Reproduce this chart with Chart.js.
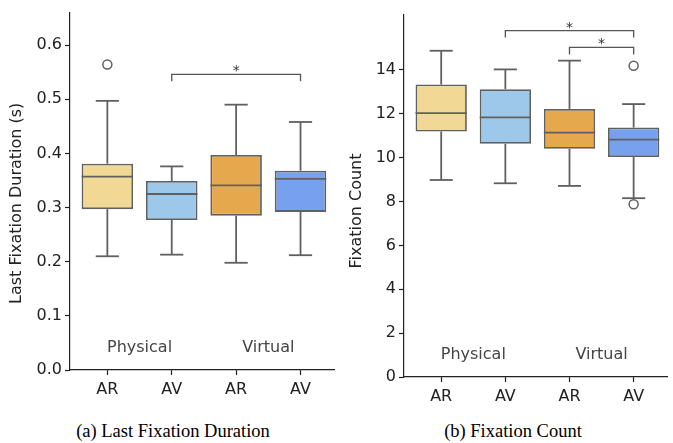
<!DOCTYPE html>
<html>
<head>
<meta charset="utf-8">
<script src="https://cdn.jsdelivr.net/npm/chart.js@4.4.1/dist/chart.umd.min.js"></script>
<style>
  body { margin: 0; background: #fff; }
  #wrap { position: relative; width: 673px; height: 443px; overflow: hidden; }
  #wrap canvas { position: absolute; top: 0; }
  .caption {
    position: absolute; top: 421px;
    font-family: 'Liberation Serif', 'Times New Roman', serif;
    font-size: 18.5px; line-height: 20px; color: #000;
    white-space: nowrap; transform: translateX(-50%);
  }
</style>
</head>
<body>
<div id="wrap">
  <canvas id="durationChart" width="340" height="410" style="left:0"></canvas>
  <canvas id="countChart" width="333" height="410" style="left:340px"></canvas>
  <div class="caption" style="left:173px">(a) Last Fixation Duration</div>
  <div class="caption" style="left:513px">(b) Fixation Count</div>
</div>
<script>
const conditions = ['AR', 'AV', 'AR', 'AV'];
const groups = ['Physical', 'Virtual'];
const boxColors = ['#f1d995', '#9dc8ea', '#e6a84c', '#77a0ee'];

// Last fixation duration (s): lower whisker, Q1, median, Q3, upper whisker
const durLow = [0.210, 0.213, 0.198, 0.212];
const durQ1 = [0.297, 0.277, 0.285, 0.292];
const durMed = [0.357, 0.325, 0.341, 0.353];
const durQ3 = [0.381, 0.349, 0.397, 0.368];
const durHigh = [0.497, 0.376, 0.490, 0.458];
const durOutliers = [[0, 0.564]];
const durTicks = [0, 0.1, 0.2, 0.3, 0.4, 0.5, 0.6];
const durSig = [[1, 3]];

// Fixation count
const cntLow = [8.98, 8.83, 8.71, 8.15];
const cntQ1 = [11.19, 10.63, 10.40, 10.03];
const cntMed = [12.03, 11.83, 11.14, 10.82];
const cntQ3 = [13.33, 13.12, 12.22, 11.37];
const cntHigh = [14.87, 14.02, 14.42, 12.44];
const cntOutliers = [[3, 14.19], [3, 7.87]];
const cntTicks = [0, 2, 4, 6, 8, 10, 12, 14];
const cntSig = [[1, 3], [2, 3]];

const EDGE = '#606060';
const AXIS = '#222';
Chart.defaults.font.family = "'DejaVu Sans', sans-serif";

// whiskers, medians, significance brackets, group names and the y title
function boxParts(s) {
  const capHalf = 0.18;
  const seg = (ctx, x1, y1, x2, y2) => {
    ctx.beginPath(); ctx.moveTo(x1, y1); ctx.lineTo(x2, y2); ctx.stroke();
  };
  return {
    id: 'boxParts',
    beforeDatasetsDraw(chart) {
      const { ctx, scales: { x, y } } = chart;
      ctx.save();
      ctx.strokeStyle = EDGE;
      ctx.lineWidth = 1.8;
      s.low.forEach((lo, i) => {
        const cx = x.getPixelForValue(i);
        const l = x.getPixelForValue(i - capHalf), r = x.getPixelForValue(i + capHalf);
        seg(ctx, cx, y.getPixelForValue(s.q1[i]), cx, y.getPixelForValue(lo));
        seg(ctx, l, y.getPixelForValue(lo), r, y.getPixelForValue(lo));
        seg(ctx, cx, y.getPixelForValue(s.q3[i]), cx, y.getPixelForValue(s.high[i]));
        seg(ctx, l, y.getPixelForValue(s.high[i]), r, y.getPixelForValue(s.high[i]));
      });

      // group names sit near the bottom of each pair
      ctx.fillStyle = '#444';
      ctx.font = "16px 'DejaVu Sans'";
      ctx.textAlign = 'center';
      ctx.textBaseline = 'middle';
      groups.forEach((g, k) => {
        ctx.fillText(g, x.getPixelForValue(k * 2 + 0.5), y.getPixelForValue(s.groupY));
      });

      // y axis title, centred a little below the middle of the axis
      ctx.fillStyle = AXIS;
      ctx.translate(s.titleX, (chart.chartArea.top + chart.chartArea.bottom) / 2 + s.titleShift);
      ctx.rotate(-Math.PI / 2);
      ctx.fillText(s.title, 0, 0);
      ctx.restore();
    },
    afterDatasetsDraw(chart) {
      const { ctx, scales: { x, y } } = chart;
      ctx.save();
      ctx.strokeStyle = EDGE;
      ctx.lineWidth = 1.8;
      s.med.forEach((m, i) => {
        const half = 0.4;
        seg(ctx, x.getPixelForValue(i - half), y.getPixelForValue(m),
                 x.getPixelForValue(i + half), y.getPixelForValue(m));
      });

      ctx.strokeStyle = '#555';
      ctx.lineWidth = 1.3;
      ctx.fillStyle = '#333';
      ctx.font = "14px 'DejaVu Sans'";
      ctx.textAlign = 'center';
      ctx.textBaseline = 'alphabetic';
      s.sig.forEach(([a, b], k) => {
        const xa = x.getPixelForValue(a), xb = x.getPixelForValue(b);
        const yb = y.getPixelForValue(s.sigY[k]);
        ctx.beginPath();
        ctx.moveTo(xa, yb + 7); ctx.lineTo(xa, yb); ctx.lineTo(xb, yb); ctx.lineTo(xb, yb + 7);
        ctx.stroke();
        ctx.fillText('*', (xa + xb) / 2, yb + 1);
      });
      ctx.restore();
    }
  };
}

function makeChart(id, s) {
  const tickFont = { size: 16 };
  return new Chart(document.getElementById(id), {
    type: 'bar',
    data: {
      datasets: [{
        type: 'bar',
        data: conditions.map((c, i) => ({ x: i, y: [s.q1[i], s.q3[i]] })),
        backgroundColor: boxColors,
        borderColor: EDGE,
        borderWidth: 1.8,
        borderSkipped: false,
        categoryPercentage: 0.8,
        barPercentage: 1
      }, {
        type: 'scatter',
        data: s.outliers.map(([i, v]) => ({ x: i, y: v })),
        pointRadius: 4.5,
        pointBackgroundColor: 'rgba(255,255,255,0)',
        pointBorderColor: EDGE,
        pointBorderWidth: 1.5
      }]
    },
    options: {
      responsive: false,
      animation: false,
      layout: { padding: { left: 0, top: s.padTop, right: s.padRight, bottom: 0 } },
      plugins: { legend: { display: false }, tooltip: { enabled: false } },
      scales: {
        x: {
          type: 'linear', min: -0.58, max: 3.52, offset: false,
          afterBuildTicks: sc => { sc.ticks = conditions.map((c, i) => ({ value: i })); },
          afterFit: sc => { sc.height = s.xHeight; },
          ticks: { callback: v => conditions[v], font: tickFont, color: AXIS, padding: 5, autoSkip: false, maxRotation: 0 },
          grid: { offset: false, drawOnChartArea: false, drawTicks: true, tickLength: 5, tickColor: AXIS, tickWidth: 1.2 },
          border: { display: true, color: AXIS, width: 1.2 }
        },
        y: {
          type: 'linear', min: s.yMin, max: s.yMax,
          afterBuildTicks: sc => { sc.ticks = s.ticks.map(v => ({ value: v })); },
          afterFit: sc => { sc.width = s.yWidth; },
          ticks: { callback: s.fmt, font: tickFont, color: AXIS, padding: 3 },
          grid: { drawOnChartArea: false, drawTicks: true, tickLength: 5, tickColor: AXIS, tickWidth: 1.2 },
          border: { display: true, color: AXIS, width: 1.2 }
        }
      }
    },
    plugins: [boxParts(s)]
  });
}

makeChart('durationChart', {
  low: durLow, q1: durQ1, med: durMed, q3: durQ3, high: durHigh,
  outliers: durOutliers, ticks: durTicks, sig: durSig, sigY: [0.546],
  groupY: 0.04, yMin: 0, yMax: 0.66, fmt: v => v.toFixed(1),
  title: 'Last Fixation Duration (s)', titleX: 17, titleShift: 12,
  padTop: 8, padRight: 2, yWidth: 70, xHeight: 40
});

makeChart('countChart', {
  low: cntLow, q1: cntQ1, med: cntMed, q3: cntQ3, high: cntHigh,
  outliers: cntOutliers, ticks: cntTicks, sig: cntSig, sigY: [15.79, 15.02],
  groupY: 1.0, yMin: 0, yMax: 16.5, fmt: v => String(v),
  title: 'Fixation Count', titleX: 17, titleShift: 15,
  padTop: 15, padRight: 1, yWidth: 64, xHeight: 33
});
</script>
</body>
</html>
